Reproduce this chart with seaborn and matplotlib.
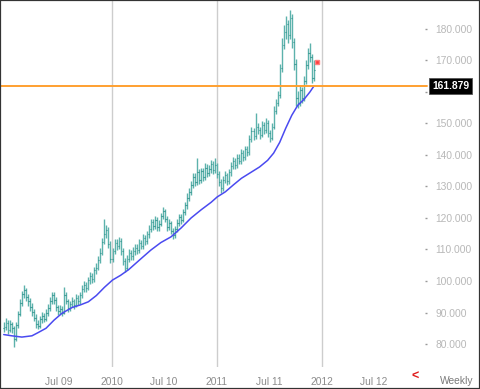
import numpy as np
import pandas as pd
import matplotlib
matplotlib.use("Agg")
import matplotlib.pyplot as plt
import matplotlib.dates as mdates
import matplotlib.transforms as mtransforms
from matplotlib.patches import Rectangle
import seaborn as sns

# ---------------- data ----------------
start_date = "2008-12-22"
first_open = 85.0
closes = [85.5, 86.8, 84.6, 86.2, 85.0, 81.5, 86.0, 89.5, 93.0, 95.8,
          97.0, 95.0, 93.5, 91.8, 90.2, 88.4, 86.5, 85.6, 87.8, 88.9,
          88.0, 89.8, 91.5, 93.8, 95.6, 94.0, 91.6, 90.4, 91.2, 90.0,
          95.5, 93.8, 91.5, 92.6, 93.5, 92.4, 94.6, 93.5, 95.4, 97.5,
          98.8, 97.8, 100.2, 101.5, 100.5, 103.4, 104.2, 106.8, 109.0, 112.5,
          115.0, 116.2, 111.8, 107.0, 109.4, 112.0, 111.0, 112.8, 109.5, 106.4,
          104.2, 107.0, 108.8, 107.8, 109.6, 110.5, 109.8, 112.0, 111.2, 113.5,
          112.6, 114.8, 116.5, 118.6, 117.4, 119.5, 117.0, 118.2, 120.5, 122.3,
          119.8, 117.2, 118.5, 115.8, 114.5, 116.5, 118.5, 120.2, 119.4, 121.8,
          124.0, 126.5, 128.3, 130.5, 133.0, 131.5, 134.5, 132.0, 134.8, 133.0,
          136.0, 134.2, 135.5, 137.0, 135.2, 136.8, 134.0, 131.5, 129.5, 132.0,
          133.5, 131.8, 134.5, 136.5, 138.0, 136.8, 139.0, 138.2, 140.5, 139.5,
          141.8, 140.8, 145.0, 147.5, 146.0, 149.0, 148.0, 146.5, 149.5, 148.0,
          150.2, 147.0, 145.5, 149.0, 154.0, 156.5, 159.0, 167.5, 175.0, 179.0,
          181.5, 178.0, 183.5, 176.0, 169.0, 158.0, 156.5, 160.5, 158.0, 163.5,
          168.5, 172.5, 171.0, 164.5, 167.0]
highs = [87.0, 88.2, 87.6, 87.5, 87.0, 85.8, 87.0, 90.6, 94.2, 96.8,
         98.8, 97.8, 96.0, 94.6, 93.0, 91.2, 89.4, 87.6, 88.8, 90.2,
         90.0, 91.0, 92.6, 95.0, 96.6, 96.4, 94.8, 92.5, 92.4, 92.0,
         98.2, 96.5, 94.4, 93.8, 94.8, 94.3, 95.8, 95.5, 96.6, 98.6,
         100.0, 99.8, 101.4, 102.8, 102.6, 104.6, 105.6, 108.0, 110.4, 113.8,
         119.8, 117.8, 117.0, 112.6, 110.6, 113.4, 113.2, 114.0, 113.6, 110.4,
         107.4, 108.2, 110.0, 109.8, 110.8, 111.8, 111.6, 113.2, 113.0, 114.8,
         114.6, 116.0, 117.8, 119.8, 119.6, 120.6, 120.2, 119.4, 121.6, 123.6,
         123.0, 120.6, 119.6, 119.2, 116.8, 117.6, 119.6, 121.4, 121.2, 123.0,
         125.2, 127.8, 129.6, 131.8, 134.4, 134.2, 139.0, 135.6, 136.0, 135.8,
         137.4, 137.0, 136.8, 138.4, 138.0, 139.2, 137.6, 135.0, 132.4, 133.2,
         134.8, 134.4, 135.6, 137.8, 139.4, 139.0, 140.2, 140.2, 141.8, 141.6,
         143.0, 142.8, 146.2, 148.8, 148.6, 153.2, 150.2, 149.0, 150.8, 150.6,
         151.6, 151.0, 148.0, 150.2, 155.4, 157.8, 160.4, 169.0, 177.0, 181.4,
         184.0, 183.0, 186.0, 184.6, 177.2, 170.4, 160.2, 162.0, 161.6, 165.0,
         170.2, 174.0, 175.6, 172.0, 170.0]
lows = [83.8, 84.6, 83.2, 83.9, 83.6, 79.0, 81.0, 85.2, 88.8, 92.0,
        94.6, 93.8, 92.2, 90.4, 89.0, 87.2, 85.2, 84.8, 85.0, 86.8,
        86.9, 87.2, 88.9, 90.6, 92.8, 92.6, 90.5, 89.2, 89.4, 88.9,
        89.6, 92.6, 90.2, 90.6, 91.6, 91.2, 91.8, 92.4, 92.8, 94.6,
        96.6, 96.6, 97.0, 99.2, 99.4, 99.8, 102.2, 103.4, 105.8, 108.2,
        111.6, 113.8, 110.6, 105.6, 106.0, 108.6, 109.8, 110.0, 108.4, 105.2,
        102.8, 103.6, 106.0, 106.6, 106.8, 108.4, 108.6, 108.8, 110.0, 110.2,
        111.4, 111.8, 113.8, 115.6, 116.2, 116.6, 115.8, 116.0, 117.4, 119.6,
        118.6, 116.0, 116.2, 114.8, 113.4, 113.8, 115.6, 117.6, 118.2, 118.6,
        120.8, 123.0, 125.4, 127.4, 129.6, 130.2, 130.6, 130.8, 131.0, 131.8,
        132.0, 133.0, 133.2, 134.4, 134.0, 134.2, 132.8, 130.2, 128.0, 128.6,
        131.0, 130.6, 130.8, 133.4, 135.4, 135.6, 135.8, 137.0, 137.2, 138.2,
        138.4, 139.6, 140.0, 144.0, 144.8, 145.0, 146.6, 145.2, 145.6, 146.8,
        147.0, 145.8, 144.0, 144.6, 148.2, 153.0, 155.4, 158.2, 166.4, 173.6,
        176.8, 175.6, 176.8, 174.0, 167.0, 155.6, 154.8, 155.6, 156.6, 157.2,
        162.4, 167.4, 169.6, 162.8, 163.6]

ma_week_idx = [0, 4, 9, 14, 17, 21, 25, 29, 34, 38, 42, 46, 50, 54, 58, 62, 68,
               73, 78, 83, 88, 93, 98, 103, 106, 110, 114, 118, 123, 127, 131,
               134, 137, 140, 143, 146, 149, 152, 154]
ma_values = [83.0, 82.6, 82.2, 82.6, 83.6, 85.0, 87.6, 89.8, 91.6, 92.4, 93.4,
             95.4, 98.0, 100.3, 101.8, 103.6, 107.0, 109.8, 112.2, 114.0, 116.8,
             120.0, 122.6, 125.0, 126.7, 128.3, 130.5, 132.6, 134.6, 136.2, 138.3,
             140.6, 144.0, 148.5, 152.6, 155.8, 157.6, 160.0, 161.879]

level_value = 161.879
live_tick_date = "2011-12-14"
live_tick_price = 169.5

x_tick_dates = ["2009-07-01", "2010-01-01", "2010-07-01", "2011-01-01",
                "2011-07-01", "2012-01-01", "2012-07-01"]
x_tick_labels = ["Jul 09", "2010", "Jul 10", "2011", "Jul 11", "2012", "Jul 12"]
grid_dates = ["2010-01-01", "2011-01-01", "2012-01-01"]
y_ticks = [80, 90, 100, 110, 120, 130, 140, 150, 160, 170, 180]
period_label = "Weekly"

# ---------------- style ----------------
sns.set_style("white")
plt.rcParams["font.family"] = ["Liberation Sans", "DejaVu Sans"]

dates = pd.date_range(start_date, periods=len(closes), freq="7D")
opens = [first_open] + closes[:-1]
xn = mdates.date2num(dates.to_pydatetime())
ohlc = pd.DataFrame({"x": xn, "open": opens, "high": highs, "low": lows, "close": closes})
ma_df = pd.DataFrame({"x": xn[ma_week_idx], "ma": ma_values})

fig = plt.figure(figsize=(4.8, 3.89), dpi=100)
ax = fig.add_axes([0.0, 22 / 389, 425 / 480, 367 / 389])

for d in grid_dates:
    ax.axvline(mdates.datestr2num(d), color="#cdcdcd", lw=1.0, zorder=0)

ax.vlines(ohlc["x"], ohlc["low"], ohlc["high"], color="#5cb2ac", lw=1.0, zorder=2)
ax.hlines(ohlc["open"], ohlc["x"] - 2.5, ohlc["x"], color="#2a8d87", lw=0.8, zorder=2)
ax.hlines(ohlc["close"], ohlc["x"], ohlc["x"] + 2.5, color="#2a8d87", lw=0.8, zorder=2)

sns.lineplot(data=ma_df, x="x", y="ma", ax=ax, color="#4a4af0", lw=1.1, zorder=3)

ax.axhline(level_value, color="#ffa030", lw=1.4, zorder=4, clip_on=False,
           xmin=0, xmax=1.005)
ax.plot([mdates.datestr2num(live_tick_date)], [live_tick_price], marker="s",
        ms=2.3, color="#ff3b3b", mec="#ff8080", zorder=5)

trans = mtransforms.blended_transform_factory(ax.transAxes, ax.transData)
ax.text(1.0165, level_value, f"{level_value:.3f}", transform=trans, ha="left",
        va="center", color="white", fontsize=7.4, fontweight="bold", zorder=10,
        clip_on=False,
        bbox=dict(boxstyle="square,pad=0.25", fc="black", ec="#555555", lw=0.6))

ax.set_xlim(mdates.datestr2num("2008-12-09"), mdates.datestr2num("2012-12-25"))
ax.set_ylim(72.7, 189.2)

for s in ax.spines.values():
    s.set_visible(False)

ax.yaxis.tick_right()
ax.set_yticks(y_ticks)
# the 160.000 label sits under the price box in the reference, so it is hidden
ax.set_yticklabels(["" if v == 160 else f"{v:.3f}" for v in y_ticks])
ax.tick_params(axis="y", length=1.5, width=1, color="#999999", pad=6,
               labelsize=7.4, labelcolor="#b8b8b8")

ax.set_xticks([mdates.datestr2num(d) for d in x_tick_dates])
ax.set_xticklabels(x_tick_labels)
quarters = pd.date_range("2009-01-01", "2012-10-01", freq="QS")
ax.set_xticks(mdates.date2num(quarters.to_pydatetime()), minor=True)
ax.tick_params(axis="x", which="both", length=1.5, width=1, color="#999999",
               pad=6, labelsize=7.4, labelcolor="#8c8c8c")
ax.set_xlabel("")
ax.set_ylabel("")
ax.grid(False)

fig.text(457 / 480, 1 - 381 / 389, period_label, ha="center", va="center",
         fontsize=7.4, color="#7a7a7a")
fig.text(415 / 480, 1 - 377 / 389, "<", ha="center", va="center",
         fontsize=9, color="#e01a1a", fontweight="bold")

fig.add_artist(Rectangle((0, 0), 1, 1, transform=fig.transFigure, fill=False,
                         edgecolor="#333333", lw=1.6))

fig.savefig("out.png", dpi=100)
